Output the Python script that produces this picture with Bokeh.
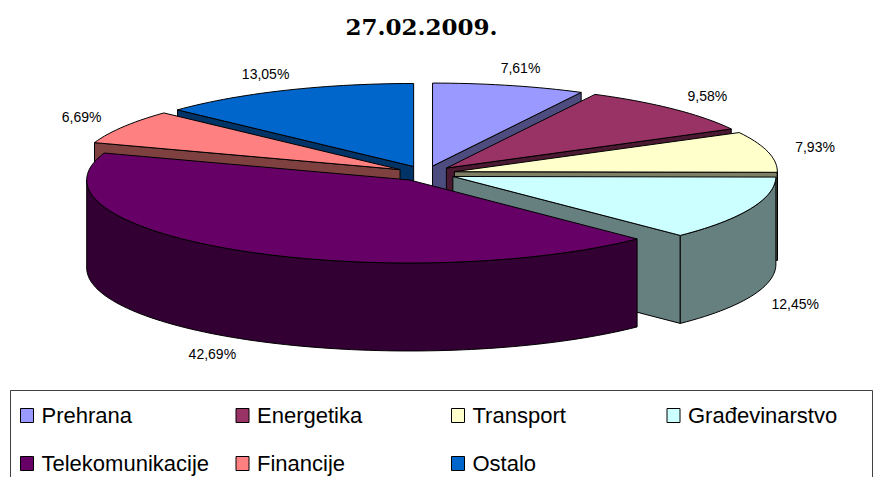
import numpy as np
from bokeh.plotting import figure
from bokeh.models import Range1d
from bokeh.core.properties import value
from bokeh.embed import file_html
from bokeh.resources import INLINE

# ---- data ----
title_text = "27.02.2009."
categories = ["Prehrana", "Energetika", "Transport", "Građevinarstvo",
              "Telekomunikacije", "Financije", "Ostalo"]
shares = [7.61, 9.58, 7.93, 12.45, 42.69, 6.69, 13.05]
colors = ["#9999FF", "#993366", "#FFFFCC", "#CCFFFF", "#660066", "#FF8080", "#0066CC"]

# ---- layout constants ----
CX, CY = 425.0, 173.0      # pie centre (page pixels)
RX, RY = 323.0, 83.0       # ellipse radii of the top surface
DEPTH = 88.0               # thickness of the 3D pie
EXPLODE = 0.092            # explosion as fraction of radius
LBL_KX, LBL_KY = 1.15, 1.22


def darker(hexcol, f=0.5):
    h = hexcol.lstrip("#")
    r, g, b = (int(h[i:i + 2], 16) for i in (0, 2, 4))
    return "#%02X%02X%02X" % (int(r * f), int(g * f), int(b * f))


W, H = 877, 477
p = figure(width=W, height=H, output_backend="svg", toolbar_location=None,
           x_range=Range1d(0, W), y_range=Range1d(H, 0),
           min_border=0, outline_line_color=None)
p.axis.visible = False
p.grid.visible = False
p.background_fill_color = "white"
p.border_fill_color = "white"

total = sum(shares)
bounds = np.concatenate([[0.0], np.cumsum(shares)]) / total * 2 * np.pi


def arc(cx, cy, t0, t1, n=None, dy=0.0):
    if n is None:
        n = max(4, int(abs(t1 - t0) / (2 * np.pi) * 240))
    t = np.linspace(t0, t1, n)
    return list(cx + RX * np.sin(t)), list(cy - RY * np.cos(t) + dy)


slices = []
for i in range(len(shares)):
    a0, a1 = bounds[i], bounds[i + 1]
    mid = (a0 + a1) / 2
    cx = CX + EXPLODE * RX * np.sin(mid)
    cy = CY - EXPLODE * RY * np.cos(mid)
    slices.append((i, a0, a1, mid, cx, cy))

order = sorted(slices, key=lambda s: -np.cos(s[3]))

xs_all, ys_all, fill_all = [], [], []
for (i, a0, a1, mid, cx, cy) in order:
    top_c = colors[i]
    side_c = darker(colors[i])
    # radial faces
    for ang, vis in ((a0, np.sin(a0) < -1e-9), (a1, np.sin(a1) > 1e-9)):
        if vis:
            rx_, ry_ = cx + RX * np.sin(ang), cy - RY * np.cos(ang)
            xs_all.append([cx, rx_, rx_, cx])
            ys_all.append([cy, ry_, ry_ + DEPTH, cy + DEPTH])
            fill_all.append(side_c)
    # outer curved side (front half only)
    lo, hi = max(a0, np.pi / 2), min(a1, 3 * np.pi / 2)
    if lo < hi:
        tx, ty = arc(cx, cy, lo, hi)
        bx, by = arc(cx, cy, hi, lo, dy=DEPTH)
        xs_all.append(tx + bx)
        ys_all.append(ty + by)
        fill_all.append(side_c)
    # top surface
    tx, ty = arc(cx, cy, a0, a1)
    xs_all.append([cx] + tx)
    ys_all.append([cy] + ty)
    fill_all.append(top_c)

p.patches(xs=xs_all, ys=ys_all, fill_color=fill_all, line_color="black",
          line_width=1, line_join="round")

# ---- percentage labels ----
lx, ly, lt = [], [], []
for (i, a0, a1, mid, cx, cy) in slices:
    x = cx + LBL_KX * RX * np.sin(mid)
    y = cy - LBL_KY * RY * np.cos(mid)
    if np.cos(mid) < 0:
        y += DEPTH
    lx.append(x)
    ly.append(y)
    lt.append(("%.2f%%" % shares[i]).replace(".", ","))
p.text(x=lx, y=ly, text=lt, text_align="center", text_baseline="middle",
       text_font=value("Liberation Sans"), text_font_size="14px", text_color="black")

# ---- title ----
p.text(x=[421], y=[26], text=[title_text], text_align="center", text_baseline="middle",
       text_font=value("DejaVu Serif"), text_font_style="bold",
       text_font_size="23px", text_color="black")

# ---- legend (drawn manually, 4 columns) ----
p.line(x=[10, 10, 872, 872], y=[490, 390, 390, 490], line_color="#404040", line_width=1)
sq_left, sq_top = [], []
tx_, ty_, tt_ = [], [], []
for k, name in enumerate(categories):
    col, row = k % 4, k // 4
    x0 = 20 + 215.5 * col
    yc = 415 + 48 * row
    sq_left.append(x0)
    sq_top.append(yc)
    tx_.append(x0 + 21)
    ty_.append(yc)
    tt_.append(name)
p.quad(left=sq_left, right=[v + 13 for v in sq_left],
       top=[v - 7 for v in sq_top], bottom=[v + 7 for v in sq_top],
       fill_color=colors, line_color="black", line_width=1)
p.text(x=tx_, y=ty_, text=tt_, text_align="left", text_baseline="middle",
       text_font=value("Liberation Sans"), text_font_size="22px", text_color="black")

open("out.html", "w").write(file_html(p, INLINE))
